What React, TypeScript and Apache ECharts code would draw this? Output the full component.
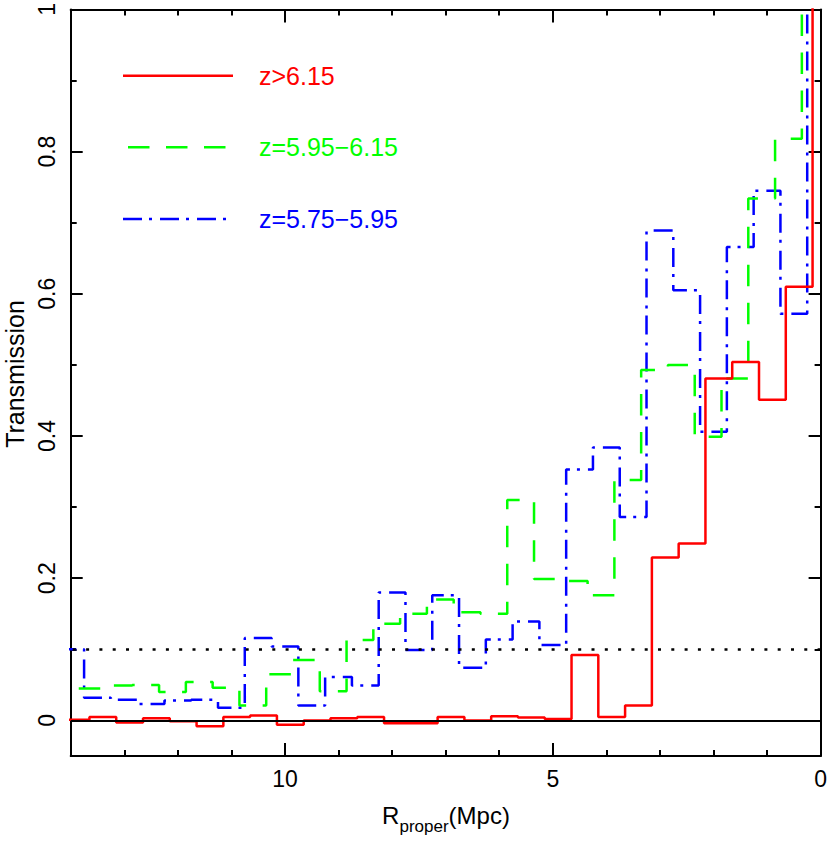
import React, { useEffect, useRef } from "react";
import * as echarts from "echarts";

// Bin edges (Mpc, proper distance) and transmission values for each redshift bin
const redEdges = [14.15, 13.65, 13.15, 12.65, 12.15, 11.65, 11.15, 10.65, 10.15, 9.65, 9.15, 8.65, 8.15, 7.65, 7.15, 6.65, 6.15, 5.65, 5.15, 4.65, 4.15, 3.65, 3.15, 2.65, 2.15, 1.65, 1.15, 0.65, 0.15, -0.35];
const redValues = [0.001, 0.005, -0.003, 0.003, -0.001, -0.008, 0.005, 0.007, -0.006, 0.0, 0.003, 0.005, -0.004, -0.004, 0.005, 0.0, 0.006, 0.004, 0.002, 0.092, 0.005, 0.021, 0.229, 0.249, 0.481, 0.504, 0.451, 0.61, 1.05];

const greenEdges = [13.85, 13.35, 12.85, 12.35, 11.85, 11.35, 10.85, 10.35, 9.85, 9.35, 8.85, 8.35, 7.85, 7.35, 6.85, 6.35, 5.85, 5.35, 4.85, 4.35, 3.85, 3.35, 2.85, 2.35, 1.85, 1.35, 0.85, 0.35, -0.15];
const greenValues = [0.045, 0.049, 0.05, 0.04, 0.054, 0.046, 0.021, 0.065, 0.085, 0.041, 0.113, 0.136, 0.15, 0.17, 0.152, 0.15, 0.31, 0.199, 0.196, 0.176, 0.338, 0.493, 0.5, 0.399, 0.481, 0.734, 0.818, 1.05];

const blueEdges = [14.25, 13.75, 13.25, 12.75, 12.25, 11.75, 11.25, 10.75, 10.25, 9.75, 9.25, 8.75, 8.25, 7.75, 7.25, 6.75, 6.25, 5.75, 5.25, 4.75, 4.25, 3.75, 3.25, 2.75, 2.25, 1.75, 1.25, 0.75, 0.25, -0.25];
const blueValues = [0.1, 0.032, 0.029, 0.023, 0.028, 0.029, 0.018, 0.116, 0.104, 0.021, 0.061, 0.049, 0.18, 0.099, 0.176, 0.074, 0.114, 0.139, 0.106, 0.353, 0.384, 0.286, 0.689, 0.605, 0.406, 0.666, 0.745, 0.572, 1.05];

const seriesNames = ["z>6.15", "z=5.95\u22126.15", "z=5.75\u22125.95"];
const seriesColors = ["#ff0000", "#00ff00", "#0000ff"];

const xMajorTicks = [0, 5, 10];
const xMinorTicks = [1, 2, 3, 4, 6, 7, 8, 9, 11, 12, 13];
const yMajorTicks = [0, 0.2, 0.4, 0.6, 0.8, 1];
const yMinorTicks = [0.1, 0.3, 0.5, 0.7, 0.9];
const refLines = [0, 0.1];

const FONT = "'Liberation Sans', Arial, Helvetica, sans-serif";

function steps(edges: number[], values: number[]) {
  const pts: number[][] = [];
  values.forEach((v, i) => {
    pts.push([edges[i], v]);
    pts.push([edges[i + 1], v]);
  });
  return pts;
}

export default function App() {
  const ref = useRef<HTMLDivElement>(null);
  useEffect(() => {
    if (!ref.current) return;
    const chart = echarts.init(ref.current, null, { renderer: "svg" });
    const axisLine = { show: true, onZero: false, lineStyle: { color: "#000", width: 2 } };
    const noLine = { show: false, onZero: false };
    const xBase = { type: "value", min: 0, max: 14, inverse: true, splitLine: { show: false } };
    const yBase = { type: "value", min: -0.05, max: 1, splitLine: { show: false } };
    const tickStyle = { color: "#000", width: 2 };
    const option: any = {
      animation: false,
      grid: { left: 70.7, right: 9.2, top: 4.5, bottom: 90, containLabel: false },
      xAxis: [
        {
          ...xBase,
          position: "bottom",
          axisLine,
          axisTick: { show: true, inside: true, length: 13, customValues: xMajorTicks, lineStyle: tickStyle },
          axisLabel: { customValues: xMajorTicks, fontSize: 23, color: "#000", fontFamily: FONT, margin: 11 },
        },
        {
          ...xBase,
          position: "bottom",
          axisLine: noLine,
          axisTick: { show: true, inside: true, length: 6, customValues: xMinorTicks, lineStyle: tickStyle },
          axisLabel: { show: false },
        },
        {
          ...xBase,
          position: "top",
          axisLine,
          axisTick: { show: true, inside: true, length: 13, customValues: xMajorTicks, lineStyle: tickStyle },
          axisLabel: { show: false },
        },
        {
          ...xBase,
          position: "top",
          axisLine: noLine,
          axisTick: { show: true, inside: true, length: 6, customValues: xMinorTicks, lineStyle: tickStyle },
          axisLabel: { show: false },
        },
      ],
      yAxis: [
        {
          ...yBase,
          position: "left",
          axisLine,
          axisTick: { show: true, inside: true, length: 12, customValues: yMajorTicks, lineStyle: tickStyle },
          axisLabel: { customValues: yMajorTicks, rotate: 90, fontSize: 23, color: "#000", fontFamily: FONT, margin: 12 },
        },
        {
          ...yBase,
          position: "left",
          axisLine: noLine,
          axisTick: { show: true, inside: true, length: 6, customValues: yMinorTicks, lineStyle: tickStyle },
          axisLabel: { show: false },
        },
        {
          ...yBase,
          position: "right",
          axisLine,
          axisTick: { show: true, inside: true, length: 12, customValues: yMajorTicks, lineStyle: tickStyle },
          axisLabel: { show: false },
        },
        {
          ...yBase,
          position: "right",
          axisLine: noLine,
          axisTick: { show: true, inside: true, length: 6, customValues: yMinorTicks, lineStyle: tickStyle },
          axisLabel: { show: false },
        },
      ],
      series: [
        {
          name: seriesNames[2],
          type: "line",
          data: steps(blueEdges, blueValues),
          showSymbol: false,
          lineStyle: { color: seriesColors[2], width: 2.5, type: [19, 7, 3, 8] },
          clip: true,
        },
        {
          name: seriesNames[1],
          type: "line",
          data: steps(greenEdges, greenValues),
          showSymbol: false,
          lineStyle: { color: seriesColors[1], width: 2.5, type: [21.5, 16.5] },
          clip: true,
        },
        {
          name: seriesNames[0],
          type: "line",
          data: steps(redEdges, redValues),
          showSymbol: false,
          lineStyle: { color: seriesColors[0], width: 2.5, type: "solid" },
          clip: true,
          markLine: {
            silent: true,
            symbol: ["none", "none"],
            label: { show: false },
            data: [
              { yAxis: refLines[0], lineStyle: { type: "solid", color: "#000", width: 2 } },
              { yAxis: refLines[1], lineStyle: { type: [3, 10.3], color: "#000", width: 2.5 } },
            ],
          },
        },
      ],
      graphic: [
        { type: "line", shape: { x1: 123, y1: 75.7, x2: 233, y2: 75.7 }, style: { stroke: seriesColors[0], lineWidth: 2.5 } },
        { type: "line", shape: { x1: 128, y1: 147.3, x2: 226, y2: 147.3 }, style: { stroke: seriesColors[1], lineWidth: 2.5, lineDash: [21.5, 16.5] } },
        { type: "line", shape: { x1: 123, y1: 219, x2: 227, y2: 219 }, style: { stroke: seriesColors[2], lineWidth: 2.5, lineDash: [19, 7, 3, 8] } },
        { type: "text", x: 259, y: 75.7, style: { text: seriesNames[0], fill: seriesColors[0], font: `25px ${FONT}`, textVerticalAlign: "middle" } },
        { type: "text", x: 259, y: 147.3, style: { text: seriesNames[1], fill: seriesColors[1], font: `25px ${FONT}`, textVerticalAlign: "middle" } },
        { type: "text", x: 259, y: 219, style: { text: seriesNames[2], fill: seriesColors[2], font: `25px ${FONT}`, textVerticalAlign: "middle" } },
        {
          type: "text",
          x: 15,
          y: 374,
          rotation: Math.PI / 2,
          style: { text: "Transmission", fill: "#000", font: `25px ${FONT}`, textAlign: "center", textVerticalAlign: "middle" },
        },
        {
          type: "text",
          x: 446,
          y: 803,
          style: {
            text: "{a|R}{b|proper}{a|(Mpc)}",
            textAlign: "center",
            textVerticalAlign: "top",
            fill: "#000",
            rich: {
              a: { fontSize: 24, lineHeight: 26, fontFamily: FONT, verticalAlign: "top", fill: "#000" },
              b: { fontSize: 17, lineHeight: 17, fontFamily: FONT, verticalAlign: "top", padding: [15, 0, 0, 0], fill: "#000" },
            },
          },
        },
      ],
    };
    chart.setOption(option);
    return () => chart.dispose();
  }, []);
  return <div ref={ref} style={{ position: "absolute", left: 0, top: 0, width: 830, height: 846 }} />;
}
